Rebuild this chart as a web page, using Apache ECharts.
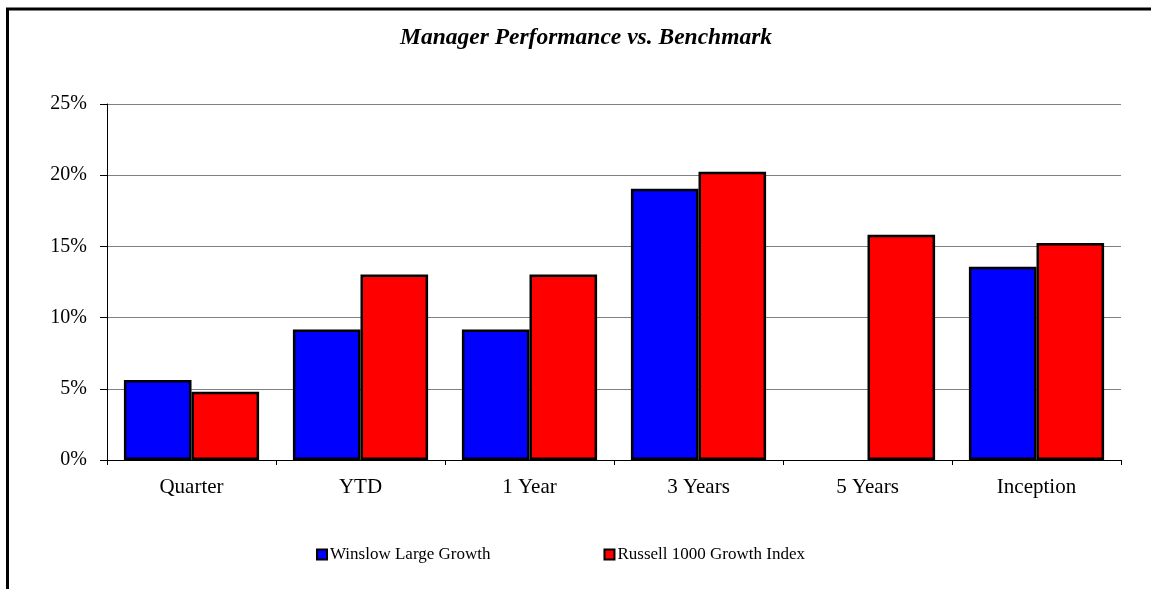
<!DOCTYPE html>
<html>
<head>
<meta charset="utf-8">
<script src="https://cdn.jsdelivr.net/npm/echarts@6/dist/echarts.min.js"></script>
<style>
html,body{margin:0;padding:0;background:#fff;}
#chart{width:1151px;height:589px;}
</style>
</head>
<body>
<div id="chart"></div>
<script>
var categories = ['Quarter', 'YTD', '1 Year', '3 Years', '5 Years', 'Inception'];
var managerValues = [5.61, 9.16, 9.16, 19.04, null, 13.57];
var benchmarkValues = [4.79, 13.03, 13.03, 20.25, 15.82, 15.23];
var seriesNames = ['Winslow Large Growth', 'Russell 1000 Growth Index'];
var yTicks = [0, 5, 10, 15, 20, 25];
var titleText = 'Manager Performance vs. Benchmark';

var FONT = "'Liberation Serif', 'Times New Roman', serif";
var chart = echarts.init(document.getElementById('chart'), null, {renderer: 'canvas'});
chart.setOption({
  animation: false,
  backgroundColor: '#ffffff',
  title: {
    text: titleText,
    left: 400,
    top: 26,
    padding: 0,
    textStyle: {fontFamily: FONT, fontSize: 23.5, fontWeight: 'bold', fontStyle: 'italic', color: '#000'}
  },
  graphic: [{
    type: 'rect',
    silent: true,
    z: 100,
    shape: {x: 7.5, y: 9, width: 1300, height: 800},
    style: {fill: 'none', stroke: '#000', lineWidth: 3}
  }],
  legend: {
    data: seriesNames,
    left: 316,
    top: 546,
    padding: 0,
    itemGap: 113,
    itemWidth: 10,
    itemHeight: 10,
    icon: 'rect',
    itemStyle: {borderColor: '#000', borderWidth: 2},
    textStyle: {fontFamily: FONT, fontSize: 17, color: '#000', padding: [0, 0, 0, -2]}
  },
  grid: {left: 107, right: 30, top: 104, bottom: 129, containLabel: false},
  xAxis: {
    type: 'category',
    data: categories,
    boundaryGap: true,
    axisLine: {lineStyle: {color: '#000', width: 1}},
    axisTick: {show: true, alignWithLabel: false, length: 5, inside: false, lineStyle: {color: '#000'}},
    axisLabel: {fontFamily: FONT, fontSize: 21, color: '#000', margin: 17},
    splitLine: {show: false}
  },
  yAxis: {
    type: 'value',
    min: yTicks[0],
    max: yTicks[yTicks.length - 1],
    interval: yTicks[1] - yTicks[0],
    axisLine: {show: true, lineStyle: {color: '#000', width: 1}},
    axisTick: {show: true, length: 7, lineStyle: {color: '#000'}},
    axisLabel: {fontFamily: FONT, fontSize: 20, color: '#000', margin: 20, formatter: '{value}%'},
    splitLine: {show: true, lineStyle: {color: '#808080', width: 1}}
  },
  series: [{
    name: seriesNames[0],
    type: 'bar',
    data: managerValues,
    barGap: '0%',
    barCategoryGap: '20%',
    itemStyle: {color: '#0000ff', borderColor: '#000', borderWidth: 2.5}
  }, {
    name: seriesNames[1],
    type: 'bar',
    data: benchmarkValues,
    barGap: '0%',
    barCategoryGap: '20%',
    itemStyle: {color: '#ff0000', borderColor: '#000', borderWidth: 2.5}
  }]
});
</script>
</body>
</html>
